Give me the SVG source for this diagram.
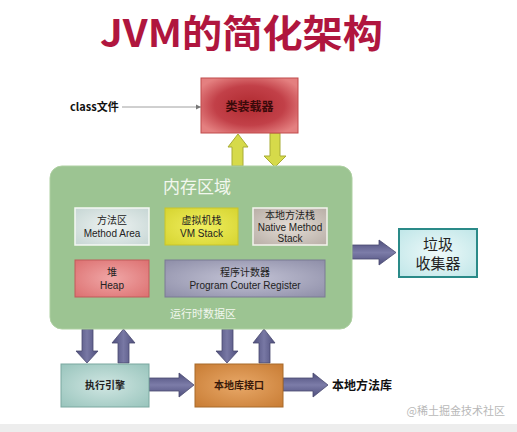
<svg xmlns="http://www.w3.org/2000/svg" width="517" height="432" viewBox="0 0 517 432">
<defs>
<style>
.cjk{font-family:"Noto Sans CJK SC","Noto Sans",sans-serif}
.lat{font-family:"Liberation Sans","Noto Sans CJK SC",sans-serif}
.ya{fill:#d6da4a;stroke:#a8ac34;stroke-width:1}
.sa{fill:url(#slateV);stroke:#4a4a70;stroke-width:0.8}
.sh{fill:url(#slateH);stroke:#4a4a70;stroke-width:0.8}
.in{font-size:10px;fill:#222;text-anchor:middle}
</style>
<radialGradient id="redG" cx="0.5" cy="0.5" r="0.6">
<stop offset="0" stop-color="#b02a30"/><stop offset="0.6" stop-color="#c24048"/><stop offset="1" stop-color="#e48080"/>
</radialGradient>
<linearGradient id="slateV" x1="0" y1="0" x2="1" y2="0">
<stop offset="0" stop-color="#4e4e7c"/><stop offset="0.5" stop-color="#7878a4"/><stop offset="1" stop-color="#4e4e7c"/>
</linearGradient>
<linearGradient id="slateH" x1="0" y1="0" x2="0" y2="1">
<stop offset="0" stop-color="#4e4e7c"/><stop offset="0.5" stop-color="#7c7ca8"/><stop offset="1" stop-color="#4e4e7c"/>
</linearGradient>
<radialGradient id="methG" cx="0.5" cy="0.5" r="0.7">
<stop offset="0" stop-color="#eef3f2"/><stop offset="1" stop-color="#c6d6d4"/>
</radialGradient>
<radialGradient id="vmG" cx="0.5" cy="0.5" r="0.7">
<stop offset="0" stop-color="#f0ee60"/><stop offset="1" stop-color="#d6d430"/>
</radialGradient>
<radialGradient id="natG" cx="0.5" cy="0.5" r="0.7">
<stop offset="0" stop-color="#e4ddd6"/><stop offset="1" stop-color="#b8aea6"/>
</radialGradient>
<radialGradient id="heapG" cx="0.5" cy="0.5" r="0.7">
<stop offset="0" stop-color="#f0a6a6"/><stop offset="1" stop-color="#dc7070"/>
</radialGradient>
<radialGradient id="pcG" cx="0.5" cy="0.5" r="0.7">
<stop offset="0" stop-color="#c4c4d6"/><stop offset="1" stop-color="#8e8ea8"/>
</radialGradient>
<radialGradient id="gcG" cx="0.5" cy="0.5" r="0.7">
<stop offset="0" stop-color="#eef9f9"/><stop offset="1" stop-color="#bfe6e8"/>
</radialGradient>
<radialGradient id="exG" cx="0.5" cy="0.5" r="0.7">
<stop offset="0" stop-color="#d0e6e2"/><stop offset="1" stop-color="#98c4bc"/>
</radialGradient>
<radialGradient id="niG" cx="0.5" cy="0.5" r="0.7">
<stop offset="0" stop-color="#e8a868"/><stop offset="1" stop-color="#c87c34"/>
</radialGradient>
<marker id="thin" markerWidth="6" markerHeight="6" refX="5" refY="3" orient="auto" markerUnits="userSpaceOnUse">
<path d="M0,0.5 L5,3 L0,5.5 z" fill="#777"/>
</marker>
</defs>
<rect width="517" height="432" fill="#ffffff"/>
<rect x="0" y="424" width="517" height="8" fill="#ededed"/>

<text x="100" y="47" class="cjk" font-size="38" font-weight="bold" fill="#b0163e" textLength="283" lengthAdjust="spacingAndGlyphs">JVM的简化架构</text>

<g id="connectors">
<line x1="122" y1="107" x2="201" y2="107" stroke="#888" stroke-width="0.8" marker-end="url(#thin)"/>
<polygon class="ya" points="238,134 248,147 243,147 243,166 232,166 232,147 228,147"/>
<polygon class="ya" points="270,133 280,133 280,156 286,156 275,167 264,156 270,156"/>
<polygon class="sh" points="352,245 379,245 379,240 396,252.5 379,265 379,259 352,259"/>
<polygon class="sa" points="82,329 93,329 93,351 98,351 87,363 76,351 82,351"/>
<polygon class="sa" points="123.5,329 135,343 129,343 129,363 118,363 118,343 112,343"/>
<polygon class="sa" points="222,329 233,329 233,351 238,351 227,363 216,351 222,351"/>
<polygon class="sa" points="264,329 275,343 270,343 270,363 259,363 259,343 253,343"/>
<polygon class="sh" points="149,378 179,378 179,373 194,385 179,397 179,391 149,391"/>
<polygon class="sh" points="283,378 313,378 313,373 328,385 313,397 313,391 283,391"/>
</g>

<g id="classfile">
<text x="70" y="111" class="cjk" font-size="11" font-weight="bold" fill="#111">class文件</text>
</g>

<g id="classloader">
<rect x="201" y="78" width="97" height="55" fill="url(#redG)" stroke="#c04a4a" stroke-width="1"/>
<text x="249.5" y="111" class="cjk" font-size="12" fill="#3a0a0a" text-anchor="middle" font-weight="bold">类装载器</text>
</g>

<g id="memory">
<rect x="50" y="166" width="302" height="163" rx="12" fill="#9cc492" stroke="#aed0a2" stroke-width="1"/>
<text x="197" y="193" class="cjk" font-size="17" fill="#f2f7ee" text-anchor="middle">内存区域</text>
<text x="203" y="318" class="cjk" font-size="11" fill="#f2f7ee" text-anchor="middle">运行时数据区</text>
</g>

<g id="methodarea">
<rect x="75" y="208" width="74" height="37" fill="url(#methG)" stroke="#f4f8f4" stroke-width="1.5"/>
<text x="112" y="224" class="cjk in">方法区</text>
<text x="112" y="237" class="lat in">Method Area</text>
</g>

<g id="vmstack">
<rect x="165" y="208" width="73" height="37" fill="url(#vmG)" stroke="#c8c42a" stroke-width="1"/>
<text x="201.5" y="224" class="cjk in">虚拟机栈</text>
<text x="201.5" y="237" class="lat in">VM Stack</text>
</g>

<g id="nativestack">
<rect x="253" y="208" width="74" height="37" fill="url(#natG)" stroke="#f4f4ee" stroke-width="1.5"/>
<text x="290" y="219" class="cjk in">本地方法栈</text>
<text x="290" y="231" class="lat in">Native Method</text>
<text x="290" y="242" class="lat in">Stack</text>
</g>

<g id="heap">
<rect x="75" y="260" width="74" height="37" fill="url(#heapG)" stroke="#c05a5a" stroke-width="1"/>
<text x="112" y="276" class="cjk in">堆</text>
<text x="112" y="289" class="lat in">Heap</text>
</g>

<g id="pc">
<rect x="165" y="260" width="160" height="37" fill="url(#pcG)" stroke="#7a7a94" stroke-width="1"/>
<text x="245" y="276" class="cjk in">程序计数器</text>
<text x="245" y="289" class="lat in">Program Couter Register</text>
</g>

<g id="gc">
<rect x="399" y="229" width="78" height="48" fill="url(#gcG)" stroke="#2a8a88" stroke-width="2"/>
<text x="438" y="250" class="cjk" font-size="15" fill="#222" text-anchor="middle">垃圾</text>
<text x="438" y="269" class="cjk" font-size="15" fill="#222" text-anchor="middle">收集器</text>
</g>

<g id="exec">
<rect x="61" y="364" width="88" height="43" fill="url(#exG)" stroke="#7aa8a0" stroke-width="1"/>
<text x="105" y="389" class="cjk" font-size="10" fill="#222" text-anchor="middle" font-weight="bold">执行引擎</text>
</g>

<g id="nativeif">
<rect x="195" y="364" width="88" height="43" fill="url(#niG)" stroke="#a86a2a" stroke-width="1"/>
<text x="239" y="389" class="cjk" font-size="10" fill="#3a1a0a" text-anchor="middle" font-weight="bold">本地库接口</text>
</g>

<g id="nativelib">
<text x="332" y="390" class="cjk" font-size="12" font-weight="bold" fill="#111">本地方法库</text>
</g>

<text x="505" y="415" class="cjk" font-size="11" fill="#b8b8b8" text-anchor="end">@稀土掘金技术社区</text>
</svg>
